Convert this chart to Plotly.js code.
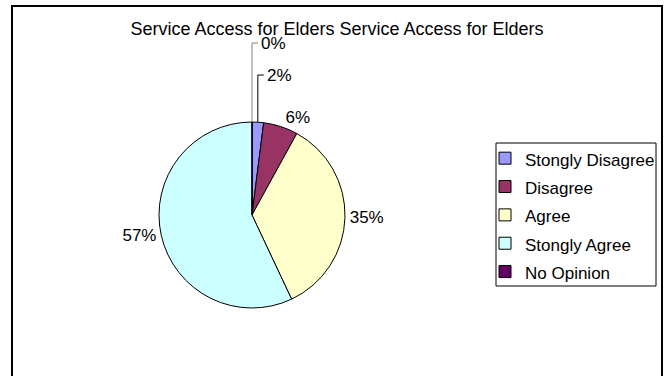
<!DOCTYPE html>
<html>
<head>
<meta charset="utf-8">
<script src="https://cdn.plot.ly/plotly-3.0.1.min.js"></script>
<style>
  html, body { margin: 0; padding: 0; background: #fff; overflow: hidden; }
  #wrap { position: relative; width: 665px; height: 376px; }
  #chart { width: 665px; height: 376px; }
  #frame { position: absolute; left: 11px; top: 5px; width: 652px; height: 420px;
           border: 2px solid #000; box-sizing: border-box; pointer-events: none; }
</style>
</head>
<body>
<div id="wrap">
  <div id="chart"></div>
  <div id="frame"></div>
</div>
<script>
const titleText = "Service Access for Elders Service Access for Elders";
const categories = ["Stongly Disagree", "Disagree", "Agree", "Stongly Agree", "No Opinion"];
const percents = [2, 6, 35, 57, 0];
const sliceColors = ["#9999FF", "#993366", "#FFFFCC", "#CCFFFF", "#660066"];
// slices whose labels sit on elbow leader lines above the pie (label height in px)
const leaderLabelY = { 0: 75, 4: 43 };
const leaderColors = { 0: "#000", 4: "#808080" };

const FONT = "Arial, 'Liberation Sans', sans-serif";
const W = 665, H = 376;
const CX = 252, CY = 215, R = 93;   // pie placement (layout)

const total = percents.reduce((a, b) => a + b, 0);

const trace = {
  type: "pie",
  labels: categories.map(c => '<span style="font-size:17px">' + c + '</span>'),
  values: percents,
  sort: false,
  direction: "clockwise",
  rotation: 0,
  marker: { colors: sliceColors, line: { color: "#000", width: 1 } },
  textposition: categories.map((c, i) => (i in leaderLabelY) ? "none" : "outside"),
  texttemplate: "%{percent:.0%}",
  textfont: { family: FONT, size: 17, color: "#000" },
  hoverinfo: "none",
  domain: { x: [(CX - R) / W, (CX + R) / W], y: [(H - CY - R) / H, (H - CY + R) / H] }
};

// leader-line labels for the small slices, placed from the slice mid-angle
const annotations = [];
const shapes = [];
let cum = 0;
percents.forEach((v, i) => {
  const mid = (cum + v / 2) / total * 2 * Math.PI;
  cum += v;
  if (!(i in leaderLabelY)) return;
  const sx = CX + R * Math.sin(mid);
  const sy = CY - R * Math.cos(mid);
  const ly = leaderLabelY[i];
  const ex = sx + 6;
  shapes.push({
    type: "path", xref: "paper", yref: "paper",
    path: "M " + (sx / W) + "," + (1 - sy / H) + " L " + (sx / W) + "," + (1 - ly / H) +
          " L " + (ex / W) + "," + (1 - ly / H),
    line: { color: leaderColors[i], width: 1 }, layer: "above"
  });
  annotations.push({
    xref: "paper", yref: "paper", x: (ex + 1) / W, y: 1 - ly / H,
    xanchor: "left", yanchor: "middle", showarrow: false,
    text: Math.round(v / total * 100) + "%",
    font: { family: FONT, size: 17, color: "#000" }
  });
});

shapes.push({ type: "rect", xref: "paper", yref: "paper",
  x0: 496 / W, x1: 656 / W, y0: 1 - 286 / H, y1: 1 - 143 / H,
  line: { color: "#000", width: 1 }, fillcolor: "rgba(0,0,0,0)", layer: "below" });

const layout = {
  width: W, height: H,
  margin: { l: 0, r: 0, t: 0, b: 0 },
  paper_bgcolor: "#fff",
  plot_bgcolor: "#fff",
  font: { family: FONT, color: "#000" },
  title: { text: titleText, font: { family: FONT, size: 18, color: "#000" },
           x: 337 / W, xanchor: "center", y: 1 - 29 / H, yanchor: "middle" },
  showlegend: true,
  legend: {
    x: 485 / W, xanchor: "left", y: 1 - 139 / H, yanchor: "top",
    font: { family: FONT, size: 19.5, color: "#000" },
    bgcolor: "rgba(0,0,0,0)", borderwidth: 0
  },
  shapes: shapes,
  annotations: annotations
};

Plotly.newPlot("chart", [trace], layout, { displayModeBar: false, staticPlot: true });
</script>
</body>
</html>
